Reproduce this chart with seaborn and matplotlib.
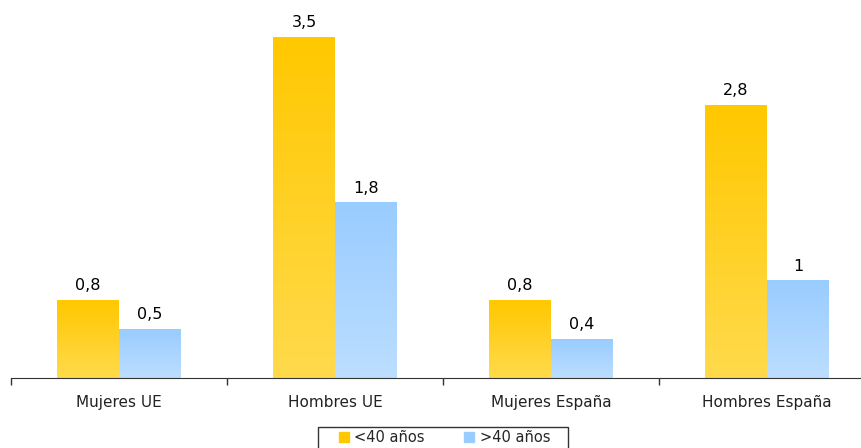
import numpy as np
import pandas as pd
import matplotlib.pyplot as plt
import seaborn as sb
from matplotlib.colors import LinearSegmentedColormap
from matplotlib.lines import Line2D
from matplotlib.patches import Rectangle

# data #
groups = ['Mujeres UE', 'Hombres UE', 'Mujeres España', 'Hombres España']
series = ['<40 años', '>40 años']
menores_40 = [0.8, 3.5, 0.8, 2.8]
mayores_40 = [0.5, 1.8, 0.4, 1.0]

df = pd.DataFrame({'grupo': groups * 2,
                   'edad': [series[0]] * 4 + [series[1]] * 4,
                   'valor': menores_40 + mayores_40})

sb.set_style('white')
plt.rcParams['font.family'] = ['DejaVu Sans']

fig = plt.figure(figsize=(8.61, 4.48), dpi=100)
ax = fig.add_axes([11 / 861, 70 / 448, 864 / 861, 378 / 448])

colors = {'<40 años': '#FFC800', '>40 años': '#99CCFF'}
bottoms = {'<40 años': '#FFDA4C', '>40 años': '#BCDEFF'}

sb.barplot(data=df, x='grupo', y='valor', hue='edad', palette=colors,
           width=0.574, gap=0, ax=ax, legend=False, saturation=1)

# gradient fill for each bar #
for container, name in zip(ax.containers, series):
    cmap = LinearSegmentedColormap.from_list(name, [bottoms[name], colors[name]])
    grad = np.linspace(0, 1, 256).reshape(-1, 1)
    for bar in container:
        x0, y0 = bar.get_x(), bar.get_y()
        w, h = bar.get_width(), bar.get_height()
        ax.imshow(grad, cmap=cmap, origin='lower', aspect='auto',
                  extent=(x0, x0 + w, y0, y0 + h), zorder=2)
        bar.set_visible(False)

ax.set_xlim(-0.5, 3.5)
ax.set_ylim(0, 3.88)

# value labels #
for container, vals in zip(ax.containers, [menores_40, mayores_40]):
    labels = [('%g' % v).replace('.', ',') for v in vals]
    ax.bar_label(container, labels=labels, padding=5, fontsize=11.5, color='black')

# axes styling #
for s in ['top', 'right', 'left']:
    ax.spines[s].set_visible(False)
ax.spines['bottom'].set_color('#333333')
ax.set_yticks([])
ax.set_xlabel('')
ax.set_ylabel('')
ax.set_xticks(range(4))
ax.set_xticklabels(groups, fontsize=11, color='#222222')
ax.tick_params(axis='x', which='major', length=0, pad=12)
ax.set_xticks([-0.5, 0.5, 1.5, 2.5, 3.5], minor=True)
ax.tick_params(axis='x', which='minor', bottom=True, length=5, width=1,
               color='#333333', direction='out')

# legend #
handles = [Line2D([], [], marker='s', linestyle='', markersize=7,
                  markerfacecolor=colors[s], markeredgecolor=colors[s]) for s in series]
leg = fig.legend(handles, series, loc='upper center', bbox_to_anchor=(445 / 861, 18 / 448),
                 ncol=2, frameon=False, fontsize=10.5,
                 handletextpad=0.4, columnspacing=2.75, borderpad=0,
                 borderaxespad=0, handlelength=0.6)
box = Rectangle((318 / 861, -0.05), 250 / 861, 21 / 448 + 0.05, transform=fig.transFigure,
                facecolor='white', edgecolor='#333333', linewidth=1, zorder=0)
fig.patches.append(box)

plt.savefig('out.png', dpi=100)
